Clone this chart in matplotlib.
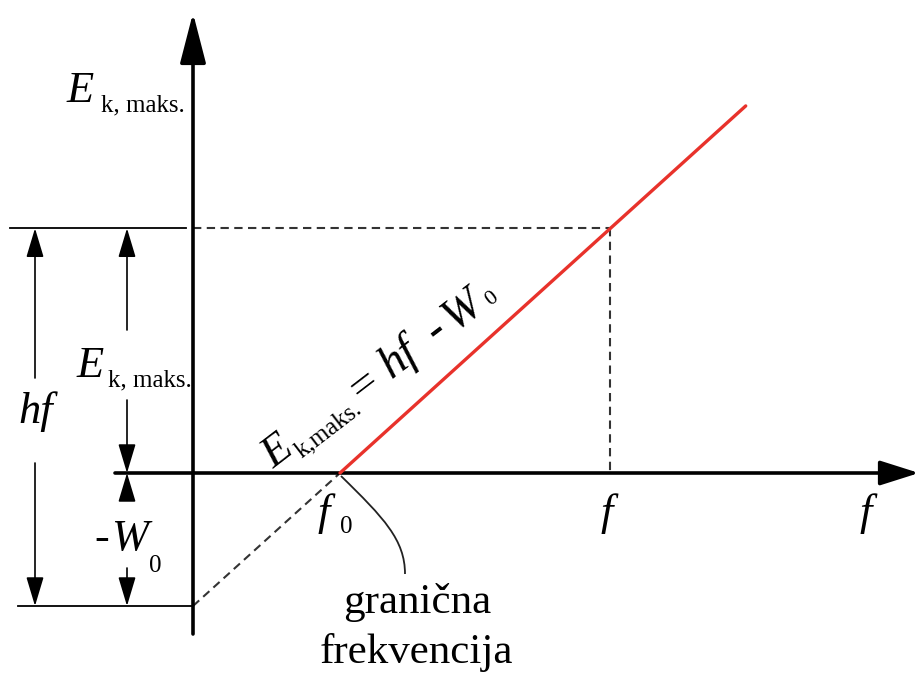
import numpy as np
import matplotlib
matplotlib.use('Agg')
import matplotlib.pyplot as plt
from matplotlib.path import Path
from matplotlib.patches import PathPatch

# ---------------- data (arbitrary units, h = 1) ----------------
f0 = 1.0            # threshold frequency (granična frekvencija)
W0 = 1.0            # work function
f_mark = 2.84       # a chosen frequency f
line_f = [1.0, 3.76]    # red line: E_k,maks = h f - W0
line_E = [0.0, 2.76]
E_at_f = 1.84       # E_k,maks at f
ext_f = [0.0, 1.0]  # dashed extension of the line to f = 0
ext_E = [-1.0, 0.0]

# ---------------- layout ----------------
W, H = 919, 673
fig = plt.figure(figsize=(W / 100, H / 100), dpi=100)
ax = fig.add_axes([0, 0, 1, 1])
sx, sy = 147.0, 133.0   # pixels per unit
ox, oy = 193.0, 473.0   # pixel position of origin
ax.set_xlim(-ox / sx, (W - ox) / sx)
ax.set_ylim(-(H - oy) / sy, oy / sy)
ax.axis('off')

def tx(xp, yp):
    """reference pixel position -> data coordinates (layout helper)"""
    return ((xp - ox) / sx, (oy - yp) / sy)

SERIF = 'Liberation Serif'
DASH = dict(color='#333333', lw=1.5, linestyle=(0, (4, 2.6)))

# axes with arrows
ax_lw = 2.6
ax.annotate('', xy=tx(919, oy), xytext=tx(115, oy),
            arrowprops=dict(arrowstyle='-|>,head_length=1.2,head_width=0.38',
                            mutation_scale=20, lw=ax_lw, color='black',
                            shrinkA=0, shrinkB=0))
ax.annotate('', xy=tx(ox, 13), xytext=tx(ox, 634),
            arrowprops=dict(arrowstyle='-|>,head_length=1.55,head_width=0.4',
                            mutation_scale=20, lw=ax_lw, color='black',
                            shrinkA=0, shrinkB=0))

# red line
ax.plot(line_f, line_E, color='#e8322b', lw=2.4, solid_capstyle='round', zorder=5)
# dashed helpers
ax.plot(ext_f, ext_E, **DASH)
ax.plot([0, f_mark], [E_at_f, E_at_f], **DASH)
ax.plot([f_mark, f_mark], [E_at_f, 0], **DASH)

# solid reference lines on the left
ax.plot([tx(10, 0)[0], tx(186, 0)[0]], [E_at_f, E_at_f], color='black', lw=1.3)
ax.plot([tx(18, 0)[0], 0], [-W0, -W0], color='black', lw=1.3)

# dimension arrows
def dim(xp, y_tail, y_tip):
    x = tx(xp, 0)[0]
    ax.annotate('', xy=(x, y_tip), xytext=(x, y_tail),
                arrowprops=dict(arrowstyle='-|>,head_length=0.9,head_width=0.27',
                                mutation_scale=20, lw=1.2, color='black',
                                shrinkA=0, shrinkB=0))

dim(35, tx(0, 378)[1], E_at_f)
dim(35, tx(0, 463)[1], -W0)
dim(127, tx(0, 330)[1], E_at_f)
dim(127, tx(0, 400)[1], 0)
dim(127, tx(0, 500)[1], 0)
dim(127, tx(0, 568)[1], -W0)

# text helper
def put(xp, yp, s, size, italic=False, ha='left'):
    ax.text(*tx(xp, yp), s, fontsize=size, family=SERIF,
            fontstyle='italic' if italic else 'normal', ha=ha, va='baseline')

BIG, SUB = 32, 18
# top axis label
put(67, 102, 'E', BIG, True)
put(101, 111, 'k, maks.', SUB)
# left labels
put(77, 377, 'E', BIG, True)
put(108, 386, 'k, maks.', SUB)
put(18, 423, 'hf', BIG, True)
put(94, 550, '-', BIG)
put(111, 550, 'W', BIG, True)
put(149, 572, '0', SUB)
# axis labels
put(317, 525, 'f', BIG, True)
put(340, 533, '0', SUB)
put(607, 525, 'f', BIG, True, ha='center')
put(866, 525, 'f', BIG, True, ha='center')
put(417, 613, 'granična', 31, ha='center')
put(416, 663, 'frekvencija', 31, ha='center')

# rotated equation above the red line
theta = 37.5
c, s_ = np.cos(np.radians(theta)), np.sin(np.radians(theta))
base_dx, base_dy = 274 - 340, 473 - 469   # start of the equation relative to (f0, 0), pixels
def rput(u, v, txt, size, italic=False):
    dx = base_dx + u * c - v * s_
    dy = base_dy + u * s_ + v * c
    ax.annotate(txt, xy=(f0, 0), xytext=(dx, dy), textcoords='offset pixels',
                fontsize=size, family=SERIF, fontstyle='italic' if italic else 'normal',
                rotation=theta, rotation_mode='anchor', ha='left', va='baseline')

rput(0, 0, 'E', BIG, True)
rput(29, -8, 'k,maks.', SUB)
rput(110, 0, '=', 34)
rput(148, 0, 'hf', 34, True)
rput(205, 0, '-', 33)
rput(228, 0, 'W', 33, True)
rput(271, -2, '0', 16)

# leader curve to "granična frekvencija"
pts = [tx(341, 476), tx(384, 518), tx(405, 540), tx(405, 574)]
path = Path(pts, [Path.MOVETO, Path.CURVE4, Path.CURVE4, Path.CURVE4])
ax.add_patch(PathPatch(path, fill=False, color='#222222', lw=1.3))

fig.savefig('out.png', dpi=100)
